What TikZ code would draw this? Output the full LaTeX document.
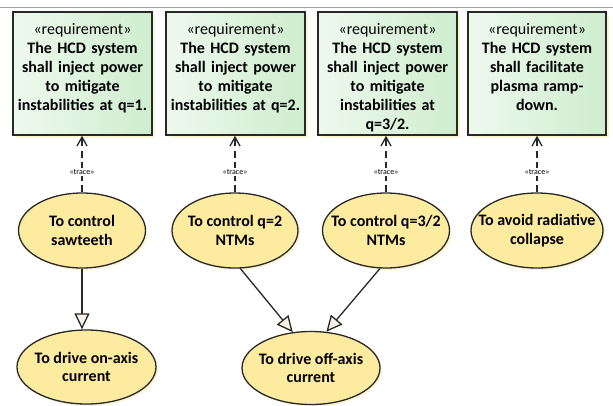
\documentclass[tikz,border=0pt]{standalone}
\usepackage{fontspec}
\setmainfont{Carlito}
\usetikzlibrary{shapes.geometric,arrows.meta,shadows}
\definecolor{reqA}{RGB}{238,249,238}
\definecolor{reqB}{RGB}{206,237,206}
\definecolor{ucfill}{RGB}{253,236,160}
\definecolor{shad}{RGB}{250,245,212}
\definecolor{edge}{RGB}{40,40,40}
\definecolor{tipfill}{RGB}{250,240,228}
\definecolor{frame}{RGB}{160,160,160}
\begin{document}
\begin{tikzpicture}[x=1pt,y=-1pt,
  req/.style={draw=edge, line width=1.4pt, left color=reqA, right color=reqB, minimum width=139pt, minimum height=123pt, inner sep=0pt, drop shadow={shadow xshift=3pt, shadow yshift=-3pt, fill=shad, opacity=1}},
  reqtext/.style={anchor=north, align=center, font=\fontsize{16}{19}\selectfont, inner sep=0pt, text width=138pt},
  uc/.style={ellipse, draw=edge, line width=1.3pt, fill=ucfill, inner xsep=-40pt, inner ysep=-15pt, align=center, font=\fontsize{16}{18.5}\selectfont\bfseries, drop shadow={shadow xshift=2pt, shadow yshift=-2pt, fill=shad, opacity=1}},
  trace/.style={draw=edge, line width=1.3pt, dash pattern=on 7pt off 4.5pt, -{Straight Barb[length=9pt,width=10pt,line width=1.3pt]}},
  tlabel/.style={fill=white, inner sep=1pt, font=\fontsize{8}{9}\selectfont},
  gen/.style={draw=edge, line width=1.3pt, -{Triangle[length=16pt,width=15pt,fill=tipfill]}},
]
\useasboundingbox (0,0) rectangle (613,405);
\draw[frame, line width=1pt] (0,7) -- (613,7);

% requirements
\node[req] (r1) at (82.5,73.5) {};
\node[req] (r2) at (235.5,73.5) {};
\node[req] (r3) at (387.5,73.5) {};
\node[req, minimum width=138pt] (r4) at (537,73.5) {};
\node[reqtext] (t1) at (82.5,23.5) {«requirement»\\\bfseries The HCD system\\\bfseries shall inject power\\\bfseries to mitigate\\\bfseries instabilities at q=1.};
\node[reqtext] (t2) at (235.5,23.5) {«requirement»\\\bfseries The HCD system\\\bfseries shall inject power\\\bfseries to mitigate\\\bfseries instabilities at q=2.};
\node[reqtext] (t3) at (387.5,23.5) {«requirement»\\\bfseries The HCD system\\\bfseries shall inject power\\\bfseries to mitigate\\\bfseries instabilities at\\\bfseries q=3/2.};
\node[reqtext] (t4) at (537,23.5) {«requirement»\\\bfseries The HCD system\\\bfseries shall facilitate\\\bfseries plasma ramp-\\\bfseries down.};

% use cases
\node[uc, minimum width=127pt, minimum height=75pt] (e1) at (82,230.5) {To control\\sawteeth};
\node[uc, minimum width=126pt, minimum height=75pt] (e2) at (235,230.5) {To control q=2\\NTMs};
\node[uc, minimum width=127pt, minimum height=75pt] (e3) at (386,230.5) {To control q=3/2\\NTMs};
\node[uc, minimum width=132pt, minimum height=75pt] (e4) at (537,230.5) {To avoid radiative\\collapse};
\node[uc, minimum width=139pt, minimum height=74pt] (e5) at (86.5,367) {To drive on-axis\\current};
\node[uc, minimum width=138pt, minimum height=73pt] (e6) at (311,368) {To drive off-axis\\current};

% trace dependencies
\draw[trace] (e1.north) -- node[pos=0.36,tlabel]{«trace»} (e1.north |- r1.south);
\draw[trace] (e2.north) -- node[pos=0.36,tlabel]{«trace»} (e2.north |- r2.south);
\draw[trace] (e3.north) -- node[pos=0.36,tlabel]{«trace»} (e3.north |- r3.south);
\draw[trace] (e4.north) -- node[pos=0.36,tlabel]{«trace»} (e4.north |- r4.south);

% generalizations
\draw[gen] (e1.south) -- (e1.south |- e5.north);
\draw[gen] (e2.278) -- (e6.117);
\draw[gen] (e3.261) -- (e6.67);
\end{tikzpicture}
\end{document}
